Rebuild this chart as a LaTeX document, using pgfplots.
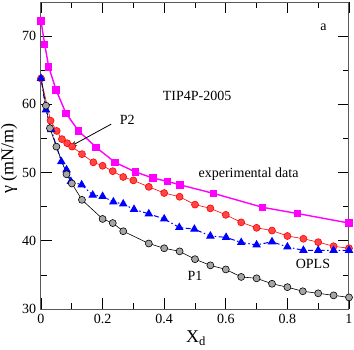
\documentclass[border=0pt]{standalone}
\usepackage{fontspec}
\setmainfont{Liberation Serif}
\usepackage{pgfplots}
\pgfplotsset{compat=1.18}
\usetikzlibrary{arrows.meta}
\definecolor{mag}{RGB}{255,0,255}
\definecolor{pfill}{RGB}{255,70,70}
\definecolor{gfill}{RGB}{165,165,165}
\begin{document}
\fontsize{14}{16}\selectfont
\begin{tikzpicture}
\begin{axis}[
  scale only axis,
  width=308pt, height=307pt,
  xmin=0, xmax=1, ymin=30, ymax=75,
  xtick={0,0.2,0.4,0.6,0.8,1},
  xticklabels={0,0.2,0.4,0.6,0.8,1},
  ytick={30,40,50,60,70},
  minor x tick num=1, minor y tick num=1,
  tick align=inside,
  major tick length=11pt, minor tick length=6pt,
  axis line style={black!65, line width=1pt},
  every tick/.style={black, line width=0.6pt},
  /pgf/number format/assume math mode=true,
  tick label style={font=\fontsize{14}{16}\selectfont},
  xlabel={X\textsubscript{d}},
  ylabel={γ (mN/m)},
  xlabel style={font=\fontsize{18}{20}\selectfont, at={(axis description cs:0.503,-0.094)}, anchor=center},
  ylabel style={font=\fontsize{18}{20}\selectfont, at={(axis description cs:-0.104,0.49)}, anchor=center},
  xticklabel style={yshift=0pt},
  yticklabel style={xshift=0pt},
]
% experimental data
\addplot[mag, line width=1.4pt, mark=square*, mark size=3pt, mark options={solid, fill=mag}] coordinates {
(0,72.2) (0.012,68.8) (0.025,65.5) (0.049,62.1) (0.081,58.7) (0.122,56.1)
(0.179,53.7) (0.240,51.5) (0.306,50.1) (0.363,49.2) (0.411,48.7) (0.451,48.2)
(0.560,46.95) (0.720,44.9) (0.832,44.0) (1.0,42.6)
};
% P2
\addplot[red, line width=0.6pt, mark=*, mark size=3.5pt, mark options={solid, draw=red, fill=pfill}] coordinates {
(0,63.8) (0.031,57.6) (0.051,56.1) (0.068,54.9) (0.085,54.3) (0.101,53.8)
(0.133,52.7) (0.170,51.5) (0.200,51.0) (0.233,50.2) (0.267,49.35) (0.300,48.85)
(0.350,47.9) (0.400,47.0) (0.450,46.45) (0.500,45.3) (0.550,44.75) (0.600,43.8)
(0.650,42.7) (0.700,41.9) (0.750,41.5) (0.800,40.7) (0.852,40.3) (0.900,39.8)
(0.950,39.2) (1.0,38.9)
};
% OPLS
\addplot[blue, line width=1pt, dash pattern=on 1.5pt off 2.5pt on 5pt off 2.5pt, mark=triangle*, mark size=4pt, mark options={solid, fill=blue}] coordinates {
(0,63.8) (0.016,59.2) (0.033,56.3) (0.066,51.6) (0.083,50.4) (0.097,48.7)
(0.132,48.2) (0.168,46.7) (0.200,46.5) (0.235,45.7) (0.267,45.4) (0.302,44.6)
(0.350,43.95) (0.400,43.2) (0.449,41.95) (0.498,41.7) (0.550,40.7) (0.601,40.5)
(0.650,39.75) (0.700,39.4) (0.750,39.85) (0.800,39.1) (0.852,38.6) (0.900,38.6)
(0.950,38.6) (1.0,38.6)
};
% P1
\addplot[black, line width=0.6pt, mark=*, mark size=3.5pt, mark options={solid, draw=black, fill=gfill}] coordinates {
(0.016,59.8) (0.029,56.5) (0.050,53.8) (0.083,49.75) (0.100,48.4)
(0.133,46.0) (0.200,43.2) (0.233,42.6) (0.267,41.4) (0.350,39.6) (0.400,38.9)
(0.450,38.45) (0.500,37.3) (0.550,36.4) (0.600,35.8) (0.650,34.7) (0.700,34.5)
(0.750,33.7) (0.800,33.2) (0.850,32.6) (0.900,32.3) (0.950,32.0) (1.0,31.7)
};
\addplot[black, line width=0.6pt, forget plot] coordinates {(0,63.8) (0.016,59.8)};
\node[font=\fontsize{14}{16}\selectfont] at (axis cs:0.507,61.3) {TIP4P-2005};
\node[font=\fontsize{14}{16}\selectfont, anchor=west] at (axis cs:0.24,57.7) {P2};
\draw[-{Stealth[length=7pt,width=5pt]}, line width=0.8pt] (axis cs:0.228,57.1) -- (axis cs:0.094,53.8);
\node[font=\fontsize{14}{16}\selectfont] at (axis cs:0.674,49.8) {experimental data};
\node[font=\fontsize{14}{16}\selectfont] at (axis cs:0.883,36.6) {OPLS};
\node[font=\fontsize{14}{16}\selectfont] at (axis cs:0.5,34.9) {P1};
\node[font=\fontsize{14}{16}\selectfont] at (axis cs:0.917,71.3) {a};
\end{axis}
\pgfresetboundingbox
\path ([xshift=-41pt,yshift=-40pt]current axis.south west) rectangle ([xshift=5pt,yshift=2pt]current axis.north east);
\end{tikzpicture}
\end{document}
